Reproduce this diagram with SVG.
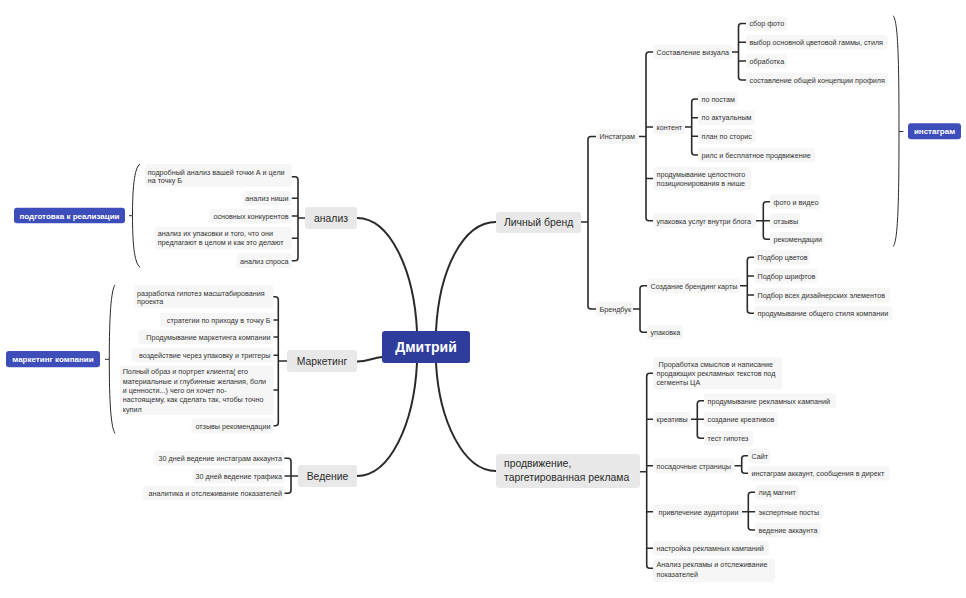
<svg xmlns="http://www.w3.org/2000/svg" width="966" height="598" viewBox="0 0 966 598">
<style>
text{font-family:"Liberation Sans",Arial,sans-serif;fill:#333}
.t{font-size:7.2px}
.e{text-anchor:end}
.mt{font-size:10.4px;fill:#2b2b2b}
.c{text-anchor:middle}
.bt{font-size:8px;font-weight:bold;fill:#fff;text-anchor:middle}
.lf{fill:#f6f6f6}
.br{fill:#e8e8e8}
.bl{fill:#3d4db9}
.tree{fill:none;stroke:#2a2a2a;stroke-width:1.6;stroke-linecap:round}
.main{fill:none;stroke:#2a2a2a;stroke-width:2;stroke-linecap:round}
.sum{fill:none;stroke:#2a2a2a;stroke-width:1}
</style>
<rect width="966" height="598" fill="#fff"/>
<g id="connectors">
<path class="main" d="M357,218 C390,218 414,270 417,331"/>
<path class="main" d="M496,222 C463,222 439,270 436,331"/>
<path class="main" d="M357,476 C390,476 414,424 417,363"/>
<path class="main" d="M496,471 C463,471 439,420 436,363"/>
<path class="main" d="M357,361.5 C368,361.5 372,358 382,357"/>
<path class="tree" d="M581,222 H588 M596,136.5 H591 Q588,136.5 588,139.5 V306 Q588,309 591,309 H596"/>
<path class="tree" d="M639,136.5 H646 M653,52 H649 Q646,52 646,55 V217.7 Q646,220.7 649,220.7 H653 M646,127 H653 M646,178.5 H653"/>
<path class="tree" d="M732,52 H738.5 M746,23.5 H741.5 Q738.5,23.5 738.5,26.5 V77 Q738.5,80 741.5,80 H746 M738.5,42.3 H746 M738.5,61 H746"/>
<path class="tree" d="M685,127 H691.7 M698,99 H694.7 Q691.7,99 691.7,102 V152 Q691.7,155 694.7,155 H698 M691.7,117.7 H698 M691.7,136.3 H698"/>
<path class="tree" d="M756,220.7 H763.3 M770,201.7 H766.3 Q763.3,201.7 763.3,204.7 V236.3 Q763.3,239.3 766.3,239.3 H770 M763.3,220.7 H770"/>
<path class="tree" d="M633,309 H640 M647,285.7 H643 Q640,285.7 640,288.7 V329.3 Q640,332.3 643,332.3 H647"/>
<path class="tree" d="M740,285.7 H747.3 M754,257.3 H750.3 Q747.3,257.3 747.3,260.3 V310.3 Q747.3,313.3 750.3,313.3 H754 M747.3,276 H754 M747.3,295 H754"/>
<path class="tree" d="M640,471.7 H646.7 M653,373.3 H649.7 Q646.7,373.3 646.7,376.3 V565.3 Q646.7,568.3 649.7,568.3 H653 M646.7,419.3 H653 M646.7,465.7 H653 M646.7,511.7 H653 M646.7,548.3 H653"/>
<path class="tree" d="M691,419.3 H697.3 M704,400.7 H700.3 Q697.3,400.7 697.3,403.7 V435.3 Q697.3,438.3 700.3,438.3 H704 M697.3,419.3 H704"/>
<path class="tree" d="M734.5,465.7 H741.7 M748,455.7 H744.7 Q741.7,455.7 741.7,458.7 V470.3 Q741.7,473.3 744.7,473.3 H748"/>
<path class="tree" d="M742,511.7 H748.3 M755,492.3 H751.3 Q748.3,492.3 748.3,495.3 V527 Q748.3,530 751.3,530 H755 M748.3,511.7 H755"/>
<path class="tree" d="M305,218 H298 M292,176.7 H295 Q298,176.7 298,179.7 V257.7 Q298,260.7 295,260.7 H292 M298,198.3 H292 M298,216 H292 M298,238.3 H292"/>
<path class="tree" d="M287,361 H278.3 M273.5,296.7 H275.3 Q278.3,296.7 278.3,299.7 V422.7 Q278.3,425.7 275.3,425.7 H273.5 M278.3,320 H273.5 M278.3,337 H273.5 M278.3,355.3 H273.5 M278.3,390 H273.5"/>
<path class="tree" d="M298,476 H291 M284.5,458.3 H288 Q291,458.3 291,461.3 V490.3 Q291,493.3 288,493.3 H284.5 M291,476 H284.5"/>
<path class="sum" d="M893,15.7 C898,20 899,60 899,131.5 C899,200 898,242 893,246.7 M899,131.5 H903.3"/>
<path class="sum" d="M140,164 C134,168 132.5,190 132.5,215.7 C132.5,241 134,263 140,267.3 M132.5,215.7 H129"/>
<path class="sum" d="M115,285 C110,292 109.3,330 109.3,359.3 C109.3,390 110,426 115,433.3 M109.3,359.3 H105"/>
</g>
<g id="center">
<rect x="382" y="331" width="88" height="32" rx="3" fill="#2e3c9c"/>
<text x="426" y="352" class="c" style="font-size:14px;font-weight:bold;fill:#fff">Дмитрий</text>
</g>
<g id="b-lichny-brend"><rect class="br" x="496" y="212" width="85" height="21" rx="3"/><text class="mt" x="504" y="225.7">Личный бренд</text></g>
<g id="b-prodvizhenie"><rect class="br" x="496" y="454" width="144" height="34" rx="3"/><text class="mt" x="504" y="467">продвижение,</text><text class="mt" x="504" y="481">таргетированная реклама</text></g>
<g id="b-analiz"><rect class="br" x="305" y="207" width="52" height="22" rx="3"/><text class="mt c" x="331" y="222">анализ</text></g>
<g id="b-marketing"><rect class="br" x="287" y="350" width="70" height="22" rx="3"/><text class="mt c" x="322" y="365">Маркетинг</text></g>
<g id="b-vedenie"><rect class="br" x="298" y="465" width="59" height="22" rx="3"/><text class="mt c" x="327.5" y="479.5">Ведение</text></g>
<g id="s-instagram"><rect class="bl" x="908" y="123.3" width="53" height="16" rx="3"/><text class="bt" x="934.5" y="134.2">инстаграм</text></g>
<g id="s-podgotovka"><rect class="bl" x="14" y="207.7" width="111" height="15.6" rx="3"/><text class="bt" x="69.5" y="218.5">подготовка к реализации</text></g>
<g id="s-marketing-kompanii"><rect class="bl" x="6" y="351" width="94" height="16.3" rx="3"/><text class="bt" x="53" y="362">маркетинг компании</text></g>
<g id="n-instagram"><rect class="lf" x="596" y="129.3" width="43" height="14.5" rx="3"/><text class="t" x="599.5" y="139.2">Инстаграм</text></g>
<g id="n-vizual"><rect class="lf" x="653" y="44.7" width="79" height="14.5" rx="3"/><text class="t" x="656.5" y="54.7">Составление визуала</text></g>
<g id="n-sbor"><rect class="lf" x="746" y="16.2" width="41" height="14.5" rx="3"/><text class="t" x="749.5" y="26.2">сбор фото</text></g>
<g id="n-vybor"><rect class="lf" x="746" y="35" width="141.5" height="14.5" rx="3"/><text class="t" x="749.5" y="45">выбор основной цветовой гаммы, стиля</text></g>
<g id="n-obrabotka"><rect class="lf" x="746" y="53.7" width="41" height="14.5" rx="3"/><text class="t" x="749.5" y="63.7">обработка</text></g>
<g id="n-koncept"><rect class="lf" x="746" y="72.7" width="142" height="14.5" rx="3"/><text class="t" x="749.5" y="82.7">составление общей концепции профиля</text></g>
<g id="n-kontent"><rect class="lf" x="653" y="119.7" width="32" height="14.5" rx="3"/><text class="t" x="656.5" y="129.7">контент</text></g>
<g id="n-posty"><rect class="lf" x="698" y="91.7" width="40" height="14.5" rx="3"/><text class="t" x="701.5" y="101.7">по постам</text></g>
<g id="n-aktual"><rect class="lf" x="698" y="110.4" width="57" height="14.5" rx="3"/><text class="t" x="701.5" y="120.4">по актуальным</text></g>
<g id="n-storis"><rect class="lf" x="698" y="129" width="57.5" height="14.5" rx="3"/><text class="t" x="701.5" y="139">план по сторис</text></g>
<g id="n-rils"><rect class="lf" x="698" y="147.7" width="117" height="14.5" rx="3"/><text class="t" x="701.5" y="157.7">рилс и бесплатное продвижение</text></g>
<g id="n-pozic"><rect class="lf" x="653" y="167" width="98" height="23.5" rx="3"/><text class="t" x="656.5" y="176.8">продумывание целостного</text><text class="t" x="656.5" y="185.8">позиционирования в нише</text></g>
<g id="n-upakovka-uslug"><rect class="lf" x="653" y="213.5" width="103" height="14.5" rx="3"/><text class="t" x="656.5" y="223.5">упаковка услуг внутри блога</text></g>
<g id="n-foto-video"><rect class="lf" x="770" y="194.5" width="50" height="14.5" rx="3"/><text class="t" x="773.5" y="204.5">фото и видео</text></g>
<g id="n-otzyvy"><rect class="lf" x="770" y="213.5" width="30" height="14.5" rx="3"/><text class="t" x="773.5" y="223.5">отзывы</text></g>
<g id="n-rekom"><rect class="lf" x="770" y="232" width="54.5" height="14.5" rx="3"/><text class="t" x="773.5" y="242">рекомендации</text></g>
<g id="n-brendbuk"><rect class="lf" x="596" y="301.7" width="37" height="14.5" rx="3"/><text class="t" x="599.5" y="311.7">Брендбук</text></g>
<g id="n-karta"><rect class="lf" x="647" y="278.5" width="93" height="14.5" rx="3"/><text class="t" x="650.5" y="288.5">Создание брендинг карты</text></g>
<g id="n-upakovka"><rect class="lf" x="647" y="325" width="36" height="14.5" rx="3"/><text class="t" x="650.5" y="335">упаковка</text></g>
<g id="n-cveta"><rect class="lf" x="754" y="250" width="56" height="14.5" rx="3"/><text class="t" x="757.5" y="260">Подбор цветов</text></g>
<g id="n-shrifty"><rect class="lf" x="754" y="268.8" width="63.5" height="14.5" rx="3"/><text class="t" x="757.5" y="278.8">Подбор шрифтов</text></g>
<g id="n-elementy"><rect class="lf" x="754" y="287.8" width="136" height="14.5" rx="3"/><text class="t" x="757.5" y="297.8">Подбор всех дизайнерских элементов</text></g>
<g id="n-stil"><rect class="lf" x="754" y="306" width="138.5" height="14.5" rx="3"/><text class="t" x="757.5" y="316">продумывание общего стиля компании</text></g>
<g id="n-prorabotka"><rect class="lf" x="653" y="357.3" width="129" height="32" rx="3"/><text class="t" x="658.5" y="367">Проработка смыслов и написание</text><text class="t" x="656.5" y="376.2">продающих рекламных текстов под</text><text class="t" x="656.5" y="385.4">сегменты ЦА</text></g>
<g id="n-kreativy"><rect class="lf" x="653" y="412" width="38" height="14.5" rx="3"/><text class="t" x="656.5" y="422">креативы</text></g>
<g id="n-kampanii"><rect class="lf" x="704" y="393.5" width="132" height="14.5" rx="3"/><text class="t" x="707.5" y="403.5">продумывание рекламных кампаний</text></g>
<g id="n-sozdanie"><rect class="lf" x="704" y="412" width="74" height="14.5" rx="3"/><text class="t" x="707.5" y="422">создание креативов</text></g>
<g id="n-test"><rect class="lf" x="704" y="431" width="49" height="14.5" rx="3"/><text class="t" x="707.5" y="441">тест гипотез</text></g>
<g id="n-posadochnye"><rect class="lf" x="653" y="458.5" width="81.5" height="14.5" rx="3"/><text class="t" x="656.5" y="468.5">посадочные страницы</text></g>
<g id="n-sait"><rect class="lf" x="748" y="448.5" width="22" height="14.5" rx="3"/><text class="t" x="751.5" y="458.5">Сайт</text></g>
<g id="n-direkt"><rect class="lf" x="748" y="466" width="141.5" height="14.5" rx="3"/><text class="t" x="751.5" y="476">инстаграм аккаунт, сообщения в директ</text></g>
<g id="n-privlechenie"><rect class="lf" x="653" y="504.5" width="89" height="14.5" rx="3"/><text class="t" x="658.5" y="514.5">привлечение аудитории</text></g>
<g id="n-lid"><rect class="lf" x="755" y="485" width="44" height="14.5" rx="3"/><text class="t" x="758.5" y="495">лид магнит</text></g>
<g id="n-ekspert"><rect class="lf" x="755" y="504.5" width="68.5" height="14.5" rx="3"/><text class="t" x="758.5" y="514.5">экспертные посты</text></g>
<g id="n-vedenie-akk"><rect class="lf" x="755" y="522.7" width="66" height="14.5" rx="3"/><text class="t" x="758.5" y="532.7">ведение аккаунта</text></g>
<g id="n-nastroika"><rect class="lf" x="653" y="541" width="116" height="14.5" rx="3"/><text class="t" x="656.5" y="551">настройка рекламных кампаний</text></g>
<g id="n-analiz-reklamy"><rect class="lf" x="653" y="558.5" width="122" height="23.5" rx="3"/><text class="t" x="656.5" y="567.3">Анализ рекламы и отслеживание</text><text class="t" x="656.5" y="576.5">показателей</text></g>
<g id="n-tochka"><rect class="lf" x="145" y="164" width="146.7" height="22.7" rx="3"/><text class="t" x="147.7" y="174.5">подробный анализ вашей точки А и цели</text><text class="t" x="147.7" y="183">на точку Б</text></g>
<g id="n-nishi"><rect class="lf" x="243.3" y="191" width="48.4" height="14.5" rx="3"/><text class="t e" x="288.5" y="201">анализ ниши</text></g>
<g id="n-konkurenty"><rect class="lf" x="209" y="208.7" width="82.7" height="14.5" rx="3"/><text class="t e" x="288.5" y="218.7">основных конкурентов</text></g>
<g id="n-ih-upakovki"><rect class="lf" x="155" y="226.7" width="136.7" height="22.7" rx="3"/><text class="t" x="157.7" y="235.6">анализ их упаковки и того, что они</text><text class="t" x="157.7" y="244.8">предлагают в целом и как это делают</text></g>
<g id="n-spros"><rect class="lf" x="236.7" y="253.5" width="55" height="14.5" rx="3"/><text class="t e" x="288.5" y="263.5">анализ спроса</text></g>
<g id="n-gipotezy"><rect class="lf" x="134.3" y="285" width="139" height="23.3" rx="3"/><text class="t" x="137" y="295.5">разработка гипотез масштабирования</text><text class="t" x="137" y="304.3">проекта</text></g>
<g id="n-strategii"><rect class="lf" x="160" y="312.7" width="113.5" height="14.5" rx="3"/><text class="t e" x="270.5" y="322.7">стратегии по приходу в точку Б</text></g>
<g id="n-produmyvanie-mk"><rect class="lf" x="138.3" y="329.7" width="135.2" height="14.5" rx="3"/><text class="t e" x="270.5" y="339.7">Продумывание маркетинга компании</text></g>
<g id="n-vozdeistvie"><rect class="lf" x="131.7" y="348" width="141.8" height="14.5" rx="3"/><text class="t e" x="270.5" y="358">воздействие через упаковку и триггеры</text></g>
<g id="n-portret"><rect class="lf" x="120" y="365.7" width="153.5" height="49.3" rx="3"/><text class="t" x="122.7" y="374.3">Полный образ и портрет клиента( его</text><text class="t" x="122.7" y="383.6">материальные и глубинные желания, боли</text><text class="t" x="122.7" y="392.9">и ценности...) чего он хочет по-</text><text class="t" x="122.7" y="402.2">настоящему, как сделать так, чтобы точно</text><text class="t" x="122.7" y="411.5">купил</text></g>
<g id="n-otzyvy-rek"><rect class="lf" x="191.7" y="418.5" width="81.8" height="14.5" rx="3"/><text class="t e" x="270.5" y="428.5">отзывы рекомендации</text></g>
<g id="n-30-insta"><rect class="lf" x="153.3" y="451" width="131" height="14.5" rx="3"/><text class="t e" x="282" y="461">30 дней ведение инстаграм аккаунта</text></g>
<g id="n-30-trafik"><rect class="lf" x="192.7" y="468.7" width="91.8" height="14.5" rx="3"/><text class="t e" x="282" y="478.7">30 дней ведение трафика</text></g>
<g id="n-analitika"><rect class="lf" x="142.7" y="486" width="141.8" height="14.5" rx="3"/><text class="t e" x="282" y="496">аналитика и отслеживание показателей</text></g>
</svg>
